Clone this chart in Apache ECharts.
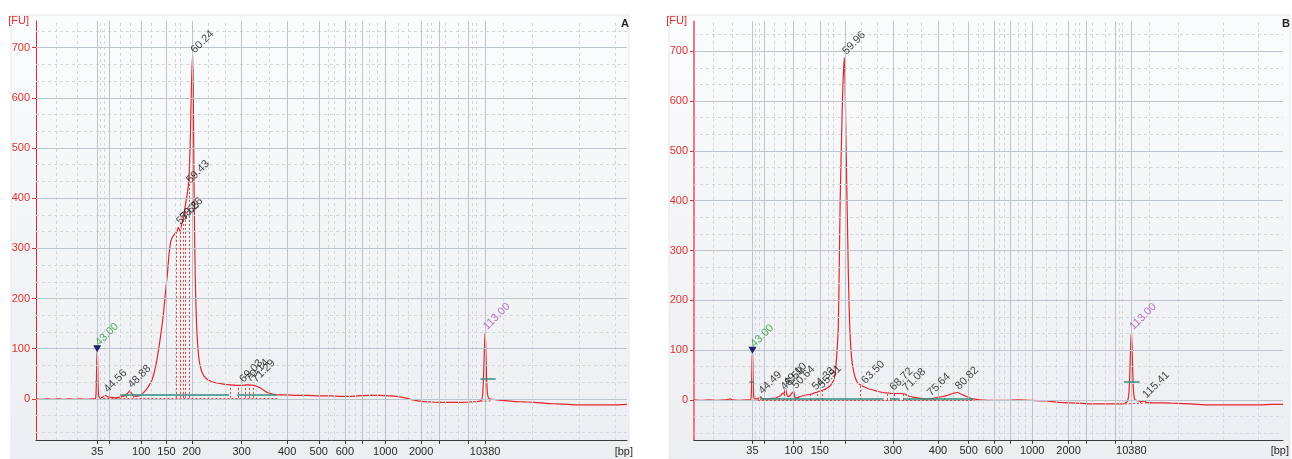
<!DOCTYPE html>
<html><head><meta charset="utf-8">
<script src="https://cdn.jsdelivr.net/npm/echarts@6/dist/echarts.min.js"></script>
<style>html,body{margin:0;padding:0;background:#fff}#c{width:1292px;height:459px}</style>
</head><body><div id="c"></div>
<script>
// ---------- DATA ----------
const ladderBp = ['35','50','100','150','200','300','400','500','600','700','1000','2000','3000','7000','10380'];
const ladderTimeA = [43.00,45.26,50.94,55.50,60.07,69.07,77.28,82.98,87.69,90.79,94.99,101.45,104.70,109.97,113.00];
const ladderTimeB = [43.00,45.23,50.60,55.44,60.05,68.92,77.26,82.93,87.61,90.58,94.68,101.38,104.59,109.96,113.00];
const shownBpA = ['35','100','150','200','300','400','500','600','1000','2000','10380'];
const shownBpB = ['35','100','150','300','400','500','600','1000','2000','10380'];
const minorXTimes = [35.69,39.34,43.56,44.26,47.08,49.04,52.69,57.05,57.97,63.10,66.06,71.67,74.12,80.11,84.67,85.72,88.54,89.58,92.05,93.46,97.32,99.07,102.59,103.29,105.75,108.22,110.67,111.38,116.28,121.57,129.99,136.5];
const yMajor = [0,100,200,300,400,500,600,700];
const yMinor = [-66.7,-33.3,33.3,66.7,133.3,166.7,233.3,266.7,333.3,366.7,433.3,466.7,533.3,566.7,633.3,666.7,733.3];

const traceA = [
[31.96,0],[33,-1],[34,0],[35,-1],[36,0],[37,-1],[38,0],[39,-1],[40,0],[41,-1],[42,0],[42.6,0],
[42.75,4],[42.85,30],[42.93,75],[43.0,97],[43.07,80],[43.15,35],[43.25,8],[43.4,3],[43.8,3],
[44.2,5],[44.56,7],[44.9,4],[45.4,3],[46.2,2],[47.0,3],[47.6,5],[48.2,7],[48.55,12],[48.88,16],[49.2,11],[49.6,6],[50.2,5],[50.8,7],
[51.5,14],[52.2,24],[52.9,38],[53.5,62],[54.06,97],[54.5,130],[54.96,170],[55.3,210],[55.68,250],[56.0,292],[56.3,315],[56.7,324],[57.1,330],[57.4,334],[57.65,342],[57.95,334],[58.26,350],[58.6,362],[58.9,385],[59.2,405],[59.43,424],[59.65,460],[59.85,540],[60.0,620],[60.15,670],[60.24,683],[60.33,620],[60.42,500],[60.52,380],[60.62,290],[60.75,215],[60.9,160],[61.05,122],[61.25,92],[61.5,70],[61.85,55],[62.3,45],[63.0,38],[64.0,33],[65.5,30],[67.0,28],[68.0,27],[69.03,27],[70.14,28],[71.29,27],[72.0,24],[72.8,19],[73.6,13],[74.4,10],[75.5,8],[77.0,8],[79.0,7],[81.0,7],[83.0,6],[85.0,6],[87.0,5],[88.5,5],[90.0,6],[92.0,7],[94.0,7],[95.5,6],[97.0,5],[98.5,2],[100.0,-2],[101.5,-5],[103.0,-6],[105.0,-7],[107.0,-7],[109.0,-7],[110.5,-6],[111.8,-5],[112.3,-3],[112.55,8],[112.75,55],[112.9,110],[113.0,132],[113.1,110],[113.22,60],[113.35,22],[113.5,5],[113.8,0],[114.5,-1],[116.0,-3],[118.0,-5],[120.0,-6],[122.0,-7],[124.0,-9],[126.0,-10],[128.0,-11],[130.0,-12],[133.0,-12],[136.0,-12],[138.6,-11]
];
const traceB = [
[32.2,0],[33.5,-1],[35,0],[36.5,-1],[38,0],[38.9,2],[39.3,0],[40.5,-1],[42,0],[42.6,0],
[42.75,5],[42.85,35],[42.93,80],[43.0,97],[43.07,78],[43.15,30],[43.25,6],[43.4,2],[43.9,2],
[44.2,4],[44.49,6],[44.8,3],[45.5,2],[46.5,3],[47.3,4],[47.9,7],[48.3,10],[48.59,14],[48.8,12],[49.1,23],[49.3,13],[49.5,7],[49.9,8],[50.3,14],[50.64,17],[50.85,5],[51.2,4],[51.8,7],[52.6,9],[53.4,11],[54.0,12],[54.33,14],[54.8,15],[55.2,17],[55.51,18],[56.1,20],[56.8,24],[57.3,28],[57.8,35],[58.1,44],[58.4,65],[58.6,95],[58.85,145],[59.05,280],[59.2,400],[59.48,535],[59.7,630],[59.96,688],[60.1,640],[60.21,568],[60.35,470],[60.51,375],[60.7,260],[60.85,190],[61.0,140],[61.2,100],[61.43,73],[61.7,57],[61.93,47],[62.2,39],[62.54,33],[63.0,30],[63.5,27],[64.3,23],[65.3,20],[66.2,17],[67.15,15],[68.0,14],[68.72,13],[69.5,13],[70.3,13],[71.08,12],[71.6,9],[72.1,7],[73.0,5],[74.0,3],[75.0,2],[75.64,2],[76.3,3],[77.2,5],[78.2,7],[79.2,10],[80.0,13],[80.82,15],[81.5,12],[82.5,7],[83.2,4],[83.8,2],[85.0,0],[86.5,-1],[88.0,-1],[90.0,-1],[92.0,0],[94.8,-1],[97.0,-2],[99.7,-5],[102.0,-6],[104.0,-7],[106.0,-8],[108.0,-8],[110.0,-8],[111.4,-8],[111.9,-6],[112.3,-2],[112.55,15],[112.75,70],[112.9,120],[113.0,135],[113.1,115],[113.22,65],[113.35,25],[113.5,6],[113.7,0],[114.3,-2],[114.9,-3],[115.41,-2],[115.8,-5],[117.0,-6],[119.0,-6],[121.3,-7],[124.0,-8],[127.4,-10],[130.0,-10],[133.0,-10],[136.7,-10],[139.0,-9],[141.0,-9]
];

const peakLabelsA = [[44.56,7,'44.56'],[48.88,16,'48.88'],[57.65,342,'57.65'],[58.26,350,'58.26'],[59.43,424,'59.43'],[60.24,683,'60.24'],[69.03,27,'69.03'],[70.14,28,'70.14'],[71.29,27,'71.29']];
const peakLabelsB = [[44.49,6,'44.49'],[48.59,14,'48.59'],[49.10,23,'49.10'],[50.64,17,'50.64'],[54.33,14,'54.33'],[55.51,18,'55.51'],[59.96,688,'59.96'],[63.50,27,'63.50'],[68.72,13,'68.72'],[71.08,12,'71.08'],[75.64,2,'75.64'],[80.82,15,'80.82'],[115.41,-2,'115.41']];
const lowerMarkerA = [[43.00,100,'43.00']];
const upperMarkerA = [[113.00,132,'113.00']];
const lowerMarkerB = [[43.00,100,'43.00']];
const upperMarkerB = [[113.00,135,'113.00']];

// peak boundaries: [time, baseline, curve value]
const boundsA = [[44.0,2,4],[45.1,2,3],[48.3,2,8],[49.5,2,7],[57.3,2,333],[58.0,2,336],[58.5,2,358],[58.9,2,385],[59.7,2,470],[67.0,2,28],[68.5,2,27],[69.7,2,28],[70.5,2,28],[71.2,2,27]];
const boundsB = [[44.1,0,4],[45.0,0,3],[48.0,0,7],[48.8,0,12],[49.4,0,9],[49.95,0,8],[50.95,0,5],[53.6,0,11],[54.9,0,15],[55.9,0,19],[63.0,0,30],[67.9,0,14],[69.2,0,13],[70.9,0,12],[71.9,0,8],[74.7,0,3],[76.4,0,3],[78.5,0,8],[83.5,0,3],[114.6,-6,-2],[116.0,-6,-5]];
// baseline segments [t1,v1,t2,v2]
const redBaseA = [[43.4,1.5,75.5,1.5],[112.2,-5,114.0,-4]];
const redBaseB = [[44.0,0,84.0,0],[111.8,-8,116.3,-6]];
const tealBaseA = [[47.15,8,66.8,8],[68.3,8,75.4,8]];
const tealBaseB = [[44.4,3,67.2,3],[68.4,3,70.2,3],[70.9,3,83.8,3]];
const halfHeightA = [[42.62,35,43.36,35,'#9a9a9a'],[112.15,40,114.9,40,'#2f8f80']];
const halfHeightB = [[42.45,37,43.3,37,'#6a6a6a'],[111.6,37,114.5,37,'#2f8f80']];

// ---------- CHART ----------
const FONT = "'Liberation Sans Narrow','Liberation Sans',Arial,sans-serif";
const RED = '#e0302f';
const chart = echarts.init(document.getElementById('c'), null, {renderer:'canvas'});

function bpFormatter(times){
  return function(v){
    let best = 0;
    for (let i = 0; i < times.length; i++) if (Math.abs(times[i]-v) < Math.abs(times[best]-v)) best = i;
    return ladderBp[best];
  };
}
function segs(list){ return list.map(s => [{coord:[s[0],s[1]]},{coord:[s[2],s[3]]}]); }
function bounds(list){ return list.map(s => [{coord:[s[0],s[1]]},{coord:[s[0],s[2]]}]); }
const ML = {silent:true, symbol:['none','none'], label:{show:false}, emphasis:{disabled:true}, animation:false};

function makeAxes(i, xmin, xmax, ymin, ymax, times, shown, axisColor, axisWidth){
  const x = {
    gridIndex:i, type:'value', min:xmin, max:xmax,
    splitLine:{show:false},
    axisLine:{show:true, onZero:false, lineStyle:{color:'#3a3a3a', width:1}},
    axisTick:{show:true, customValues:times, length:4, lineStyle:{color:'#3a3a3a'}},
    axisLabel:{customValues: shown.map(b => times[ladderBp.indexOf(b)]), formatter:bpFormatter(times), color:'#2a2a2a', fontFamily:FONT, fontSize:11, margin:6, hideOverlap:false},
    name:'[bp]', nameLocation:'end', nameGap:6,
    nameTextStyle:{align:'right', verticalAlign:'top', padding:[6,0,0,0], color:'#2a2a2a', fontFamily:FONT, fontSize:11}
  };
  const y = {
    gridIndex:i, type:'value', min:ymin, max:ymax,
    splitLine:{show:false},
    axisLine:{show:true, lineStyle:{color:axisColor, width:axisWidth}},
    axisTick:{show:true, customValues:yMajor, length:4, lineStyle:{color:RED}},
    axisLabel:{customValues:yMajor, color:RED, fontFamily:FONT, fontSize:11, margin:6},
    name:'[FU]', nameLocation:'end', nameGap:0,
    nameTextStyle:{align:'right', verticalAlign:'middle', padding:[0,7,0,0], color:RED, fontFamily:FONT, fontSize:11}
  };
  return [x,y];
}

function gridSeries(i, xmin, ymin, times){
  return [
    {type:'line', xAxisIndex:i, yAxisIndex:i, data:[[xmin,ymin]], showSymbol:false, lineStyle:{opacity:0}, silent:true, z:1,
     markLine:Object.assign({}, ML, {lineStyle:{color:'#d3d7dc', type:[3,3], width:1},
       data: yMinor.map(v=>({yAxis:v})).concat(minorXTimes.map(v=>({xAxis:v})))})},
    {type:'line', xAxisIndex:i, yAxisIndex:i, data:[[xmin,ymin]], showSymbol:false, lineStyle:{opacity:0}, silent:true, z:1,
     markLine:Object.assign({}, ML, {lineStyle:{color:'#bcc5ce', type:'solid', width:1},
       data: yMajor.map(v=>({yAxis:v})).concat(times.map(v=>({xAxis:v})))})}
  ];
}

function annotationSeries(i, redBase, tealBase, bnds, half){
  return [
    {type:'line', xAxisIndex:i, yAxisIndex:i, data:[], showSymbol:false, silent:true, z:2,
     markLine:Object.assign({}, ML, {lineStyle:{color:'#e8403f', type:[2,2], width:1}, data: segs(redBase).concat(bounds(bnds))})},
    {type:'line', xAxisIndex:i, yAxisIndex:i, data:[], showSymbol:false, silent:true, z:2,
     markLine:Object.assign({}, ML, {lineStyle:{color:'#2f8f80', type:'solid', width:1.5}, data: segs(tealBase)})},
    {type:'line', xAxisIndex:i, yAxisIndex:i, data:[], showSymbol:false, silent:true, z:4,
     markLine:Object.assign({}, ML, {data: half.map(s => [{coord:[s[0],s[1]], lineStyle:{color:s[4], width:1.5, type:'solid'}},{coord:[s[2],s[3]]}])})}
  ];
}

function traceSeries(i, data){
  return {type:'line', xAxisIndex:i, yAxisIndex:i, data:data, showSymbol:false, symbol:'none', smooth:0.25,
    lineStyle:{color:'#e3262b', width:1.2}, z:3, animation:false, silent:true,
    markPoint:{symbol:'triangle', symbolRotate:180, symbolSize:[8,7], silent:true, animation:false,
      itemStyle:{color:'#1c2266'}, label:{show:false}, data:[{coord:[43.0,100]}]}};
}

function labelSeries(i, list, color){
  return {type:'scatter', xAxisIndex:i, yAxisIndex:i, symbolSize:1, itemStyle:{color:'rgba(0,0,0,0)'}, silent:true, z:5, animation:false,
    data: list.map(d => ({value:[d[0], d[1]], name:d[2]})),
    label:{show:true, formatter:'{b}', position:'top', distance:4, rotate:45, align:'left', verticalAlign:'middle',
      color:color, fontFamily:FONT, fontSize:11}};
}

const axA = makeAxes(0, 31.96, 138.6, -82, 753, ladderTimeA, shownBpA, '#e02a2a', 1);
const axB = makeAxes(1, 32.2, 141.0, -80, 760, ladderTimeB, shownBpB, '#ec7a7a', 2);

const bgFill = new echarts.graphic.LinearGradient(0,0,0,1,[{offset:0,color:'#fbfcfd'},{offset:1,color:'#eceef1'}]);

chart.setOption({
  animation:false,
  backgroundColor:'#ffffff',
  graphic:[
    {type:'rect', shape:{x:11, y:15, width:618, height:444}, style:{fill:bgFill, stroke:'#e6e9ec', lineWidth:1}, z:-10, silent:true},
    {type:'rect', shape:{x:669, y:15, width:621, height:444}, style:{fill:bgFill, stroke:'#e6e9ec', lineWidth:1}, z:-10, silent:true}
  ],
  title:[
    {text:'A', left:616, top:13, textStyle:{fontSize:11, fontWeight:'bold', color:'#222', fontFamily:FONT}},
    {text:'B', left:1277, top:13, textStyle:{fontSize:11, fontWeight:'bold', color:'#222', fontFamily:FONT}}
  ],
  grid:[
    {left:36, top:21, width:591, height:419, containLabel:false},
    {left:694, top:21.4, width:590, height:418.4, containLabel:false}
  ],
  xAxis:[axA[0], axB[0]],
  yAxis:[axA[1], axB[1]],
  series:[].concat(
    gridSeries(0, 31.96, -82, ladderTimeA),
    gridSeries(1, 32.2, -80, ladderTimeB),
    annotationSeries(0, redBaseA, tealBaseA, boundsA, halfHeightA),
    annotationSeries(1, redBaseB, tealBaseB, boundsB, halfHeightB),
    [traceSeries(0, traceA), traceSeries(1, traceB),
     labelSeries(0, peakLabelsA, '#111'), labelSeries(0, lowerMarkerA, '#2e9a3c'), labelSeries(0, upperMarkerA, '#a552c2'),
     labelSeries(1, peakLabelsB, '#111'), labelSeries(1, lowerMarkerB, '#2e9a3c'), labelSeries(1, upperMarkerB, '#a552c2')]
  )
});
</script>
</body></html>
